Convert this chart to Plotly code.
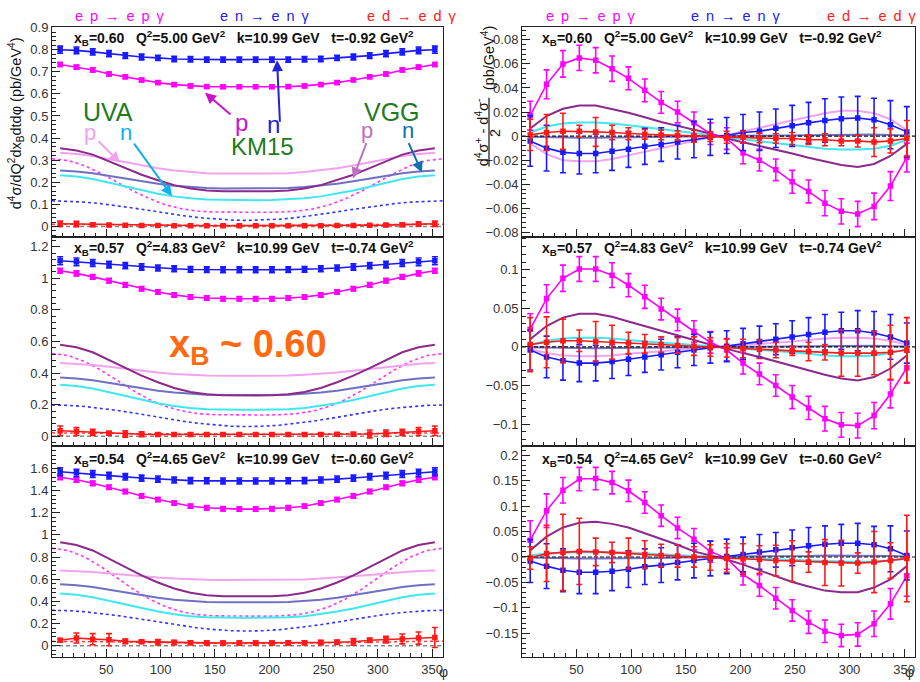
import plotly.graph_objects as go

W, H = 920, 682

# ---------------- data ----------------
PHI = [7.5, 22.5, 37.5, 52.5, 67.5, 82.5, 97.5, 112.5, 127.5, 142.5, 157.5, 172.5,
       187.5, 202.5, 217.5, 232.5, 247.5, 262.5, 277.5, 292.5, 307.5, 322.5, 337.5, 352.5]
PHI_FINE = [0, 15, 30, 45, 60, 75, 90, 105, 120, 135, 150, 165, 180,
            195, 210, 225, 240, 255, 270, 285, 300, 315, 330, 345, 360]
X_TICKS = [50, 100, 150, 200, 250, 300, 350]
ZERO_X = [0, 360]
ZERO_Y = [0, 0]

HEADERS = [
    "x<sub>B</sub>=0.60   Q<sup>2</sup>=5.00 GeV<sup>2</sup>   k=10.99 GeV   t=-0.92 GeV<sup>2</sup>",
    "x<sub>B</sub>=0.57   Q<sup>2</sup>=4.83 GeV<sup>2</sup>   k=10.99 GeV   t=-0.74 GeV<sup>2</sup>",
    "x<sub>B</sub>=0.54   Q<sup>2</sup>=4.65 GeV<sup>2</sup>   k=10.99 GeV   t=-0.60 GeV<sup>2</sup>",
]

# ---- top-left (cross sections) ----
TL_N = [0.800, 0.797, 0.790, 0.782, 0.773, 0.767, 0.763, 0.758, 0.757, 0.755, 0.755, 0.755,
        0.755, 0.755, 0.755, 0.757, 0.758, 0.763, 0.767, 0.773, 0.782, 0.790, 0.797, 0.800]
TL_N_ERR = [0.016, 0.015, 0.014, 0.014, 0.013, 0.013, 0.012, 0.012, 0.012, 0.012, 0.012, 0.012,
            0.012, 0.012, 0.012, 0.012, 0.012, 0.012, 0.013, 0.013, 0.014, 0.014, 0.015, 0.016]
TL_P = [0.733, 0.721, 0.708, 0.690, 0.677, 0.663, 0.651, 0.642, 0.636, 0.633, 0.632, 0.632,
        0.632, 0.632, 0.633, 0.636, 0.642, 0.651, 0.663, 0.677, 0.690, 0.708, 0.721, 0.733]
TL_P_ERR = [0.009, 0.009, 0.009, 0.009, 0.008, 0.008, 0.008, 0.008, 0.008, 0.008, 0.008, 0.008,
            0.008, 0.008, 0.008, 0.008, 0.008, 0.008, 0.008, 0.008, 0.009, 0.009, 0.009, 0.009]
TL_D = [0.012, 0.011, 0.008, 0.006, 0.005, 0.004, 0.004, 0.003, 0.003, 0.003, 0.003, 0.003,
        0.003, 0.003, 0.003, 0.003, 0.003, 0.004, 0.004, 0.005, 0.006, 0.008, 0.011, 0.012]
TL_D_ERR = [0.012, 0.012, 0.008, 0.006, 0.005, 0.005, 0.004, 0.004, 0.004, 0.004, 0.004, 0.004,
            0.004, 0.004, 0.004, 0.004, 0.004, 0.005, 0.005, 0.005, 0.006, 0.008, 0.010, 0.012]
TL_VGG_P = [0.354, 0.344, 0.325, 0.295, 0.264, 0.234, 0.209, 0.187, 0.172, 0.163, 0.159, 0.158,
            0.158, 0.159, 0.163, 0.172, 0.187, 0.209, 0.234, 0.264, 0.295, 0.325, 0.344, 0.354]
TL_UVA_P = [0.333, 0.328, 0.319, 0.305, 0.290, 0.276, 0.263, 0.253, 0.246, 0.241, 0.239, 0.239,
            0.239, 0.239, 0.241, 0.246, 0.253, 0.263, 0.276, 0.290, 0.305, 0.319, 0.328, 0.333]
TL_VGG_N = [0.253, 0.249, 0.241, 0.229, 0.216, 0.204, 0.193, 0.184, 0.178, 0.174, 0.172, 0.172,
            0.172, 0.172, 0.174, 0.178, 0.184, 0.193, 0.204, 0.216, 0.229, 0.241, 0.249, 0.253]
TL_UVA_N = [0.232, 0.226, 0.215, 0.198, 0.180, 0.163, 0.148, 0.136, 0.127, 0.122, 0.120, 0.119,
            0.119, 0.120, 0.122, 0.127, 0.136, 0.148, 0.163, 0.180, 0.198, 0.215, 0.226, 0.232]
TL_DOT_P = [0.306, 0.298, 0.275, 0.240, 0.200, 0.160, 0.125, 0.097, 0.079, 0.069, 0.065, 0.064, 0.064,
            0.064, 0.065, 0.069, 0.079, 0.097, 0.125, 0.160, 0.200, 0.240, 0.275, 0.298, 0.306]
TL_DOT_N = [0.116, 0.114, 0.110, 0.103, 0.094, 0.083, 0.072, 0.060, 0.049, 0.040, 0.033, 0.029, 0.027,
            0.029, 0.033, 0.040, 0.049, 0.060, 0.072, 0.083, 0.094, 0.103, 0.110, 0.114, 0.116]
TL_DOT_D = [0.010, 0.010, 0.010, 0.009, 0.008, 0.008, 0.007, 0.006, 0.005, 0.005, 0.004, 0.004, 0.004,
            0.004, 0.004, 0.005, 0.005, 0.006, 0.007, 0.008, 0.008, 0.009, 0.010, 0.010, 0.010]

# ---- middle-left ----
ML_N = [1.111, 1.104, 1.097, 1.087, 1.080, 1.072, 1.065, 1.060, 1.056, 1.055, 1.054, 1.054,
        1.054, 1.054, 1.055, 1.056, 1.060, 1.065, 1.072, 1.080, 1.087, 1.097, 1.104, 1.111]
ML_N_ERR = [0.025, 0.024, 0.022, 0.021, 0.020, 0.020, 0.019, 0.019, 0.018, 0.018, 0.018, 0.018,
            0.018, 0.018, 0.018, 0.018, 0.019, 0.019, 0.020, 0.020, 0.021, 0.022, 0.024, 0.025]
ML_P = [1.048, 1.031, 1.009, 0.985, 0.958, 0.934, 0.913, 0.895, 0.882, 0.875, 0.871, 0.871,
        0.871, 0.871, 0.875, 0.882, 0.895, 0.913, 0.934, 0.958, 0.985, 1.009, 1.031, 1.048]
ML_P_ERR = [0.016, 0.016, 0.015, 0.015, 0.015, 0.014, 0.014, 0.014, 0.014, 0.014, 0.014, 0.014,
            0.014, 0.014, 0.014, 0.014, 0.014, 0.014, 0.014, 0.015, 0.015, 0.015, 0.016, 0.016]
ML_D = [0.035, 0.030, 0.025, 0.020, 0.015, 0.013, 0.012, 0.012, 0.012, 0.011, 0.011, 0.011,
        0.011, 0.011, 0.011, 0.012, 0.012, 0.013, 0.014, 0.015, 0.020, 0.025, 0.030, 0.035]
ML_D_ERR = [0.030, 0.025, 0.020, 0.012, 0.020, 0.015, 0.010, 0.010, 0.010, 0.010, 0.010, 0.010,
            0.010, 0.010, 0.010, 0.010, 0.010, 0.010, 0.012, 0.025, 0.020, 0.020, 0.025, 0.030]
ML_VGG_P = [0.580, 0.564, 0.532, 0.483, 0.432, 0.384, 0.342, 0.306, 0.281, 0.266, 0.260, 0.258,
            0.258, 0.260, 0.266, 0.281, 0.306, 0.342, 0.384, 0.432, 0.483, 0.532, 0.564, 0.580]
ML_UVA_P = [0.464, 0.460, 0.452, 0.440, 0.427, 0.415, 0.404, 0.395, 0.389, 0.385, 0.383, 0.383,
            0.383, 0.383, 0.385, 0.389, 0.395, 0.404, 0.415, 0.427, 0.440, 0.452, 0.460, 0.464]
ML_VGG_N = [0.372, 0.366, 0.355, 0.338, 0.320, 0.304, 0.289, 0.277, 0.268, 0.263, 0.261, 0.260,
            0.260, 0.261, 0.263, 0.268, 0.277, 0.289, 0.304, 0.320, 0.338, 0.355, 0.366, 0.372]
ML_UVA_N = [0.327, 0.319, 0.303, 0.279, 0.254, 0.230, 0.209, 0.192, 0.179, 0.172, 0.169, 0.168,
            0.168, 0.169, 0.172, 0.179, 0.192, 0.209, 0.230, 0.254, 0.279, 0.303, 0.319, 0.327]
ML_DOT_P = [0.524, 0.511, 0.474, 0.419, 0.354, 0.289, 0.232, 0.189, 0.160, 0.143, 0.137, 0.135, 0.135,
            0.135, 0.137, 0.143, 0.160, 0.189, 0.232, 0.289, 0.354, 0.419, 0.474, 0.511, 0.524]
ML_DOT_N = [0.198, 0.196, 0.189, 0.178, 0.164, 0.148, 0.130, 0.112, 0.096, 0.082, 0.071, 0.064, 0.062,
            0.064, 0.071, 0.082, 0.096, 0.112, 0.130, 0.148, 0.164, 0.178, 0.189, 0.196, 0.198]
ML_DOT_D = [0.022, 0.022, 0.021, 0.020, 0.019, 0.017, 0.016, 0.015, 0.014, 0.013, 0.012, 0.012, 0.012,
            0.012, 0.012, 0.013, 0.014, 0.015, 0.016, 0.017, 0.019, 0.020, 0.021, 0.022, 0.022]

# ---- bottom-left ----
BL_N = [1.570, 1.560, 1.549, 1.535, 1.524, 1.513, 1.503, 1.495, 1.490, 1.488, 1.487, 1.487,
        1.487, 1.487, 1.488, 1.490, 1.495, 1.503, 1.513, 1.524, 1.535, 1.549, 1.560, 1.570]
BL_N_ERR = [0.035, 0.033, 0.031, 0.030, 0.029, 0.028, 0.028, 0.027, 0.027, 0.027, 0.027, 0.027,
            0.027, 0.027, 0.027, 0.027, 0.027, 0.028, 0.028, 0.029, 0.030, 0.031, 0.033, 0.035]
BL_P = [1.520, 1.497, 1.466, 1.431, 1.391, 1.352, 1.319, 1.287, 1.259, 1.245, 1.236, 1.233,
        1.233, 1.236, 1.245, 1.259, 1.287, 1.319, 1.352, 1.391, 1.431, 1.466, 1.497, 1.520]
BL_P_ERR = [0.022, 0.021, 0.021, 0.020, 0.020, 0.020, 0.019, 0.019, 0.019, 0.019, 0.019, 0.019,
            0.019, 0.019, 0.019, 0.019, 0.019, 0.019, 0.020, 0.020, 0.020, 0.021, 0.021, 0.022]
BL_D = [0.050, 0.070, 0.060, 0.055, 0.040, 0.036, 0.032, 0.030, 0.028, 0.026, 0.025, 0.025,
        0.025, 0.025, 0.026, 0.028, 0.030, 0.032, 0.036, 0.050, 0.055, 0.062, 0.070, 0.075]
BL_D_ERR = [0.015, 0.045, 0.050, 0.055, 0.020, 0.015, 0.025, 0.020, 0.018, 0.018, 0.018, 0.018,
            0.018, 0.018, 0.018, 0.018, 0.020, 0.020, 0.030, 0.020, 0.030, 0.045, 0.055, 0.090]
BL_VGG_P = [0.933, 0.909, 0.860, 0.786, 0.708, 0.635, 0.571, 0.517, 0.478, 0.456, 0.446, 0.444,
            0.444, 0.446, 0.456, 0.478, 0.517, 0.571, 0.635, 0.708, 0.786, 0.860, 0.909, 0.933]
BL_UVA_P = [0.679, 0.675, 0.666, 0.653, 0.639, 0.627, 0.615, 0.606, 0.599, 0.595, 0.593, 0.593,
            0.593, 0.593, 0.595, 0.599, 0.606, 0.615, 0.627, 0.639, 0.653, 0.666, 0.675, 0.679]
BL_VGG_N = [0.554, 0.546, 0.530, 0.505, 0.479, 0.455, 0.433, 0.415, 0.402, 0.395, 0.392, 0.391,
            0.391, 0.392, 0.395, 0.402, 0.415, 0.433, 0.455, 0.479, 0.505, 0.530, 0.546, 0.554]
BL_UVA_N = [0.471, 0.460, 0.438, 0.405, 0.370, 0.337, 0.309, 0.285, 0.267, 0.257, 0.253, 0.252,
            0.252, 0.253, 0.257, 0.267, 0.285, 0.309, 0.337, 0.370, 0.405, 0.438, 0.460, 0.471]
BL_DOT_P = [0.880, 0.859, 0.801, 0.714, 0.612, 0.510, 0.420, 0.352, 0.306, 0.280, 0.270, 0.267, 0.267,
            0.267, 0.270, 0.280, 0.306, 0.352, 0.420, 0.510, 0.612, 0.714, 0.801, 0.859, 0.880]
BL_DOT_N = [0.320, 0.317, 0.307, 0.293, 0.273, 0.251, 0.227, 0.202, 0.180, 0.160, 0.146, 0.136, 0.133,
            0.136, 0.146, 0.160, 0.180, 0.202, 0.227, 0.251, 0.273, 0.293, 0.307, 0.317, 0.320]
BL_DOT_D = [0.040, 0.040, 0.039, 0.037, 0.035, 0.033, 0.030, 0.027, 0.025, 0.023, 0.021, 0.020, 0.020,
            0.020, 0.021, 0.023, 0.025, 0.027, 0.030, 0.033, 0.035, 0.037, 0.039, 0.040, 0.040]

# ---- top-right (helicity differences) ----
TR_P = [0.017, 0.043, 0.060, 0.065, 0.063, 0.056, 0.048, 0.038, 0.028, 0.020, 0.011, 0.002,
        -0.002, -0.014, -0.020, -0.028, -0.038, -0.046, -0.0557, -0.0625, -0.0647, -0.0584, -0.0415, -0.0178]
TR_P_ERR = [0.012, 0.012, 0.011, 0.0105, 0.0105, 0.0105, 0.0095, 0.0095, 0.009, 0.009, 0.009, 0.009,
            0.009, 0.009, 0.009, 0.009, 0.0095, 0.0095, 0.0105, 0.0105, 0.0105, 0.011, 0.012, 0.012]
TR_N = [-0.004, -0.010, -0.0135, -0.0145, -0.0145, -0.0125, -0.011, -0.0085, -0.007, -0.005, -0.003, -0.001,
        0.0005, 0.003, 0.004, 0.0065, 0.0085, 0.011, 0.013, 0.0145, 0.015, 0.0135, 0.0095, 0.0035]
TR_N_ERR = [0.021, 0.019, 0.017, 0.017, 0.016, 0.016, 0.015, 0.015, 0.014, 0.014, 0.015, 0.015,
            0.015, 0.015, 0.016, 0.016, 0.017, 0.017, 0.018, 0.018, 0.018, 0.018, 0.020, 0.021]
TR_D = [0.001, 0.003, 0.004, 0.004, 0.0035, 0.003, 0.002, 0.0015, 0.001, 0.0005, 0.0, -0.0005,
        -0.001, -0.001, -0.0015, -0.002, -0.002, -0.003, -0.003, -0.004, -0.004, -0.005, -0.004, -0.002]
TR_D_ERR = [0.013, 0.015, 0.015, 0.005, 0.012, 0.006, 0.005, 0.004, 0.004, 0.004, 0.005, 0.004,
            0.005, 0.005, 0.004, 0.004, 0.005, 0.004, 0.005, 0.004, 0.005, 0.012, 0.010, 0.015]
TR_VGG_P = [0.0063, 0.0167, 0.0227, 0.0254, 0.0254, 0.0227, 0.0194, 0.0156, 0.0117, 0.0085, 0.0055, 0.0022,
            -0.002, -0.005, -0.008, -0.011, -0.0145, -0.018, -0.021, -0.024, -0.0257, -0.0232, -0.0165, -0.0065]
TR_UVA_P = [-0.006, -0.015, -0.020, -0.021, -0.021, -0.019, -0.016, -0.013, -0.010, -0.007, -0.004, -0.001,
            0.001, 0.004, 0.007, 0.010, 0.013, 0.016, 0.019, 0.021, 0.021, 0.019, 0.014, 0.005]
TR_UVA_N = [0.003, 0.008, 0.0105, 0.0112, 0.0112, 0.0105, 0.009, 0.0075, 0.0055, 0.004, 0.0025, 0.001,
            -0.001, -0.0025, -0.004, -0.0055, -0.0075, -0.009, -0.0105, -0.0112, -0.0112, -0.0105, -0.008, -0.003]
TR_VGG_N = [-0.0005, -0.001, -0.0013, -0.0014, -0.0014, -0.0013, -0.0011, -0.0009, -0.0007, -0.0005, -0.0003, -0.0001,
            0.0001, 0.0003, 0.0005, 0.0007, 0.0009, 0.0011, 0.0013, 0.0014, 0.0014, 0.0013, 0.001, 0.0005]

# ---- middle-right ----
MR_P = [0.023, 0.0626, 0.089, 0.101, 0.101, 0.093, 0.080, 0.065, 0.049, 0.035, 0.020, 0.006,
        -0.004, -0.021, -0.035, -0.050, -0.065, -0.079, -0.093, -0.101, -0.102, -0.089, -0.061, -0.027]
MR_P_ERR = [0.020, 0.018, 0.017, 0.016, 0.016, 0.016, 0.015, 0.015, 0.014, 0.014, 0.014, 0.014,
            0.014, 0.014, 0.014, 0.014, 0.015, 0.015, 0.016, 0.016, 0.016, 0.017, 0.018, 0.020]
MR_N = [-0.004, -0.013, -0.018, -0.021, -0.021, -0.019, -0.016, -0.013, -0.010, -0.007, -0.004, -0.001,
        0.001, 0.004, 0.007, 0.010, 0.013, 0.016, 0.019, 0.021, 0.021, 0.018, 0.013, 0.005]
MR_N_ERR = [0.026, 0.027, 0.025, 0.024, 0.023, 0.022, 0.021, 0.020, 0.020, 0.020, 0.020, 0.020,
            0.020, 0.020, 0.020, 0.020, 0.021, 0.022, 0.023, 0.024, 0.026, 0.028, 0.029, 0.026]
MR_D = [0.003, 0.006, 0.008, 0.008, 0.007, 0.006, 0.005, 0.004, 0.003, 0.002, 0.001, 0.0,
        -0.001, -0.002, -0.003, -0.004, -0.005, -0.006, -0.007, -0.008, -0.008, -0.008, -0.007, -0.004]
MR_D_ERR = [0.035, 0.033, 0.028, 0.014, 0.026, 0.022, 0.014, 0.012, 0.010, 0.010, 0.012, 0.012,
            0.012, 0.012, 0.012, 0.010, 0.006, 0.012, 0.010, 0.030, 0.030, 0.028, 0.035, 0.042]
MR_VGG_P = [0.010, 0.027, 0.038, 0.043, 0.043, 0.039, 0.033, 0.027, 0.020, 0.014, 0.009, 0.003,
            -0.003, -0.008, -0.013, -0.019, -0.025, -0.031, -0.036, -0.041, -0.0435, -0.039, -0.028, -0.011]
MR_UVA_P = [-0.003, -0.008, -0.011, -0.012, -0.012, -0.011, -0.009, -0.007, -0.0055, -0.004, -0.0025, -0.001,
            0.001, 0.0025, 0.004, 0.0055, 0.007, 0.009, 0.011, 0.012, 0.012, 0.011, 0.008, 0.003]
MR_UVA_N = [0.003, 0.008, 0.011, 0.012, 0.012, 0.011, 0.009, 0.007, 0.0055, 0.004, 0.0025, 0.001,
            -0.001, -0.0025, -0.004, -0.0055, -0.007, -0.009, -0.011, -0.012, -0.012, -0.011, -0.008, -0.003]
MR_VGG_N = [-0.0005, -0.001, -0.0015, -0.0017, -0.0017, -0.0015, -0.0013, -0.001, -0.0008, -0.0005, -0.0003, -0.0001,
            0.0001, 0.0003, 0.0005, 0.0008, 0.001, 0.0013, 0.0015, 0.0017, 0.0017, 0.0015, 0.001, 0.0005]

# ---- bottom-right ----
BR_P = [0.033, 0.091, 0.131, 0.153, 0.154, 0.146, 0.130, 0.107, 0.081, 0.057, 0.035, 0.011,
        -0.003, -0.034, -0.056, -0.081, -0.105, -0.128, -0.146, -0.154, -0.152, -0.131, -0.092, -0.037]
BR_P_ERR = [0.038, 0.033, 0.025, 0.023, 0.022, 0.022, 0.021, 0.021, 0.021, 0.021, 0.021, 0.021,
            0.021, 0.021, 0.021, 0.021, 0.021, 0.022, 0.022, 0.022, 0.023, 0.025, 0.030, 0.040]
BR_N = [-0.008, -0.018, -0.026, -0.030, -0.030, -0.028, -0.024, -0.019, -0.016, -0.011, -0.007, -0.003,
        0.001, 0.005, 0.010, 0.014, 0.018, 0.022, 0.025, 0.027, 0.027, 0.024, 0.016, 0.003]
BR_N_ERR = [0.042, 0.044, 0.042, 0.042, 0.042, 0.038, 0.036, 0.035, 0.034, 0.034, 0.034, 0.034,
            0.034, 0.034, 0.034, 0.034, 0.035, 0.036, 0.036, 0.037, 0.039, 0.036, 0.045, 0.048]
BR_D = [-0.002, 0.007, 0.009, 0.011, 0.010, 0.009, 0.007, 0.005, 0.003, 0.002, 0.0, -0.001,
        -0.002, -0.004, -0.005, -0.007, -0.008, -0.010, -0.011, -0.012, -0.012, -0.010, -0.007, -0.003]
BR_D_ERR = [0.022, 0.055, 0.075, 0.065, 0.027, 0.020, 0.030, 0.027, 0.022, 0.022, 0.020, 0.025,
            0.028, 0.030, 0.027, 0.030, 0.040, 0.020, 0.045, 0.045, 0.020, 0.060, 0.035, 0.085]
BR_VGG_P = [0.013, 0.040, 0.058, 0.067, 0.069, 0.065, 0.058, 0.047, 0.035, 0.024, 0.011, 0.003,
            -0.005, -0.015, -0.026, -0.037, -0.049, -0.058, -0.066, -0.069, -0.069, -0.060, -0.044, -0.018]
BR_UVA_P = [0.002, 0.006, 0.009, 0.011, 0.011, 0.010, 0.009, 0.007, 0.005, 0.004, 0.002, 0.001,
            -0.001, -0.002, -0.004, -0.005, -0.007, -0.009, -0.010, -0.011, -0.011, -0.010, -0.007, -0.003]
BR_UVA_N = [0.003, 0.007, 0.009, 0.010, 0.010, 0.009, 0.008, 0.006, 0.005, 0.003, 0.002, 0.001,
            -0.001, -0.002, -0.003, -0.005, -0.006, -0.008, -0.009, -0.010, -0.010, -0.009, -0.007, -0.003]
BR_VGG_N = [-0.001, -0.002, -0.002, -0.003, -0.003, -0.003, -0.002, -0.002, -0.002, -0.001, -0.001, 0.0,
            0.0, 0.001, 0.001, 0.002, 0.002, 0.002, 0.003, 0.003, 0.003, 0.002, 0.002, 0.001]

# ---------------- style ----------------
FONT = "Liberation Sans, Arial, Helvetica, sans-serif"
C_P = "#ff00ff"
C_N = "#1a1aff"
C_D = "#ff1a1a"
C_VGG_P = "#8b2a8b"
C_UVA_P = "#f2a2ee"
C_VGG_N = "#6e70c4"
C_UVA_N = "#3de8ee"
C_DOT_P = "#ff33ff"
C_DOT_N = "#3333ff"
C_DOT_D = "#ff4040"
GREEN = "#1e7a1e"

X_DOM = [[52 / W, 443 / W], [522 / W, 915 / W]]
Y_DOM = [[1 - 233 / H, 1 - 20 / H], [1 - 446 / H, 1 - 233 / H], [1 - 660 / H, 1 - 446 / H]]

# (row, col, y-range, major dtick, minor dtick)
PANELS = [
    (0, 0, [-0.046, 0.904], 0.1, 0.02),
    (0, 1, [-0.0835, 0.0909], 0.02, 0.004),
    (1, 0, [-0.064, 1.264], 0.2, 0.04),
    (1, 1, [-0.129, 0.143], 0.05, 0.01),
    (2, 0, [-0.104, 1.798], 0.2, 0.04),
    (2, 1, [-0.197, 0.217], 0.05, 0.01),
]

LEFT_SETS = [
    dict(n=TL_N, ne=TL_N_ERR, p=TL_P, pe=TL_P_ERR, d=TL_D, de=TL_D_ERR, vp=TL_VGG_P, up=TL_UVA_P,
         vn=TL_VGG_N, un=TL_UVA_N, dp=TL_DOT_P, dn=TL_DOT_N, dd=TL_DOT_D),
    dict(n=ML_N, ne=ML_N_ERR, p=ML_P, pe=ML_P_ERR, d=ML_D, de=ML_D_ERR, vp=ML_VGG_P, up=ML_UVA_P,
         vn=ML_VGG_N, un=ML_UVA_N, dp=ML_DOT_P, dn=ML_DOT_N, dd=ML_DOT_D),
    dict(n=BL_N, ne=BL_N_ERR, p=BL_P, pe=BL_P_ERR, d=BL_D, de=BL_D_ERR, vp=BL_VGG_P, up=BL_UVA_P,
         vn=BL_VGG_N, un=BL_UVA_N, dp=BL_DOT_P, dn=BL_DOT_N, dd=BL_DOT_D),
]
RIGHT_SETS = [
    dict(n=TR_N, ne=TR_N_ERR, p=TR_P, pe=TR_P_ERR, d=TR_D, de=TR_D_ERR, vp=TR_VGG_P, up=TR_UVA_P,
         vn=TR_VGG_N, un=TR_UVA_N),
    dict(n=MR_N, ne=MR_N_ERR, p=MR_P, pe=MR_P_ERR, d=MR_D, de=MR_D_ERR, vp=MR_VGG_P, up=MR_UVA_P,
         vn=MR_VGG_N, un=MR_UVA_N),
    dict(n=BR_N, ne=BR_N_ERR, p=BR_P, pe=BR_P_ERR, d=BR_D, de=BR_D_ERR, vp=BR_VGG_P, up=BR_UVA_P,
         vn=BR_VGG_N, un=BR_UVA_N),
]

fig = go.Figure()


def ax_names(k):
    return ("x" if k == 1 else f"x{k}"), ("y" if k == 1 else f"y{k}")


def curve(k, x, y, color, width=2.0, dash="solid"):
    xa, ya = ax_names(k)
    fig.add_trace(go.Scatter(x=x, y=y, mode="lines", xaxis=xa, yaxis=ya, hoverinfo="skip",
                             line=dict(color=color, width=width, dash=dash), showlegend=False))


def data(k, x, y, err, color):
    xa, ya = ax_names(k)
    fig.add_trace(go.Scatter(x=x, y=y, mode="lines+markers", xaxis=xa, yaxis=ya,
                             line=dict(color=color, width=1.6),
                             marker=dict(symbol="square", size=5.5, color=color),
                             error_y=dict(type="data", array=err, visible=True, color=color,
                                          thickness=1.6, width=3),
                             showlegend=False))


layout_axes = {}
for i, (row, col, yr, dt, mdt) in enumerate(PANELS):
    k = i + 1
    xa, ya = ax_names(k)
    xkey = "xaxis" if k == 1 else f"xaxis{k}"
    ykey = "yaxis" if k == 1 else f"yaxis{k}"
    layout_axes[xkey] = dict(
        domain=X_DOM[col], range=[0, 360], anchor=ya, tickmode="array", tickvals=X_TICKS,
        showticklabels=(row == 2), ticks="inside", ticklen=8, tickwidth=1, tickcolor="#222",
        minor=dict(tickmode="linear", tick0=0, dtick=10, ticks="inside", ticklen=4, tickcolor="#222"),
        showline=True, mirror=True, linecolor="#222", linewidth=1, showgrid=False, zeroline=False,
        tickfont=dict(family=FONT, size=13, color="#333"))
    layout_axes[ykey] = dict(
        domain=Y_DOM[row], range=yr, anchor=xa, tick0=0, dtick=dt, ticks="inside", ticklen=8,
        tickwidth=1, tickcolor="#222",
        minor=dict(tick0=0, dtick=mdt, ticks="inside", ticklen=4, tickcolor="#222"),
        showline=True, mirror=True, linecolor="#222", linewidth=1, showgrid=False, zeroline=False,
        tickfont=dict(family=FONT, size=13, color="#333"))

    if col == 0:
        s = LEFT_SETS[row]
        curve(k, ZERO_X, ZERO_Y, "#888888", 1.5, "4px,3px")
        curve(k, PHI_FINE, s["dd"], C_DOT_D, 1.5, "3px,3px")
        curve(k, PHI_FINE, s["dn"], C_DOT_N, 1.6, "3px,3px")
        curve(k, PHI_FINE, s["dp"], C_DOT_P, 1.6, "3px,3px")
        curve(k, PHI, s["un"], C_UVA_N, 2.0)
        curve(k, PHI, s["vn"], C_VGG_N, 2.0)
        curve(k, PHI, s["up"], C_UVA_P, 2.0)
        curve(k, PHI, s["vp"], C_VGG_P, 2.0)
        data(k, PHI, s["d"], s["de"], C_D)
        data(k, PHI, s["p"], s["pe"], C_P)
        data(k, PHI, s["n"], s["ne"], C_N)
    else:
        s = RIGHT_SETS[row]
        curve(k, PHI, s["up"], C_UVA_P, 2.0)
        curve(k, PHI, s["un"], C_UVA_N, 2.0)
        curve(k, PHI, s["vn"], C_VGG_N, 2.0)
        curve(k, PHI, s["vp"], C_VGG_P, 2.0)
        curve(k, ZERO_X, ZERO_Y, "#111111", 1.2, "4px,2px")
        data(k, PHI, s["p"], s["pe"], C_P)
        data(k, PHI, s["n"], s["ne"], C_N)
        data(k, PHI, s["d"], s["de"], C_D)


def px(x):
    return x / W


def py(y):
    return 1 - y / H


annotations = []


def text(x, y, t, size, color, bold=False, angle=0, xanchor="center"):
    annotations.append(dict(x=px(x), y=py(y), xref="paper", yref="paper", text=(f"<b>{t}</b>" if bold else t),
                            showarrow=False, textangle=angle, xanchor=xanchor, yanchor="middle",
                            font=dict(family=FONT, size=size, color=color)))


def arrow(tx, ty, hx, hy, color):
    annotations.append(dict(x=px(hx), y=py(hy), xref="paper", yref="paper", text="", showarrow=True,
                            axref="pixel", ayref="pixel", ax=tx - hx, ay=ty - hy, arrowhead=2,
                            arrowsize=1.1, arrowwidth=2, arrowcolor=color, standoff=0, startstandoff=0))


# reaction labels on top (wide letter spacing)
G = "\u00a0\u2009"
for x0 in (0, 471):
    text(119 + x0, 9, f"e{G}p{G}→{G}e{G}p{G}γ", 14.5, C_P)
    text(264 + x0, 9, f"e{G}n{G}→{G}e{G}n{G}γ", 14.5, "#2020ee")
text(411, 9, f"e{G}d{G}→{G}e{G}d{G}γ", 14.5, C_D)
text(918, 9, f"e{G}d{G}→{G}e{G}d{G}γ", 14.5, C_D, xanchor="right")

# panel headers
SP = "\u00a0"
HDR_Y = [31, 245, 459]
for r in range(3):
    h = HEADERS[r].replace("   ", SP * 3)
    text(244, HDR_Y[r], h, 14, "#111", bold=True)
    text(712, HDR_Y[r], h, 14, "#111", bold=True)

# model labels
text(108, 107, "UVA", 25, GREEN)
text(392, 107, "VGG", 25, GREEN)
text(262, 142, "KM15", 24, GREEN)
text(242, 117, "p", 24, "#cc11cc")
text(273, 119, "n", 24, "#2222dd")
text(90, 127, "p", 22, C_UVA_P)
text(126, 127, "n", 22, "#10b0f0")
text(367, 125, "p", 22, "#c070c0")
text(408, 125, "n", 22, "#1070b0")
arrow(232, 110, 205, 87, "#cc11cc")
arrow(280, 117, 277, 54, "#2222dd")
arrow(97, 135, 120, 158, C_UVA_P)
arrow(133, 138, 172, 192, "#10b0f0")
arrow(367, 137, 353, 174, "#c070c0")
arrow(408, 137, 422, 168, "#1070b0")

# big orange label
text(248, 345, "x<sub>B</sub> ~ 0.60", 38, "#ff6a10", bold=True)

# axis titles
text(16, 118, "d<sup>4</sup>σ/dQ<sup>2</sup>dx<sub>B</sub>dtdφ (pb/GeV<sup>4</sup>)", 14.5, "#111", angle=-90)
text(482, 127, "d<sup>4</sup>σ<sup>+</sup> - d<sup>4</sup>σ<sup>-</sup>", 14.5, "#111", angle=-90)
text(495, 128, "2", 14.5, "#111", angle=-90)
text(488, 52, "(pb/GeV<sup>4</sup>)", 14.5, "#111", angle=-90)
text(443, 675, "φ", 14, "#333")
text(909, 675, "φ", 14, "#333")

shapes = [dict(type="line", xref="paper", yref="paper", x0=px(489), x1=px(489), y0=py(92), y1=py(162),
               line=dict(color="#111", width=1.2))]

fig.update_layout(width=W, height=H, autosize=False, margin=dict(l=0, r=0, t=0, b=0),
                  paper_bgcolor="white", plot_bgcolor="white", showlegend=False,
                  annotations=annotations, shapes=shapes, **layout_axes)

fig.write_html("out.html", config={"displayModeBar": False, "staticPlot": True},
               post_script="document.body.style.margin='0';document.body.style.overflow='hidden';")
